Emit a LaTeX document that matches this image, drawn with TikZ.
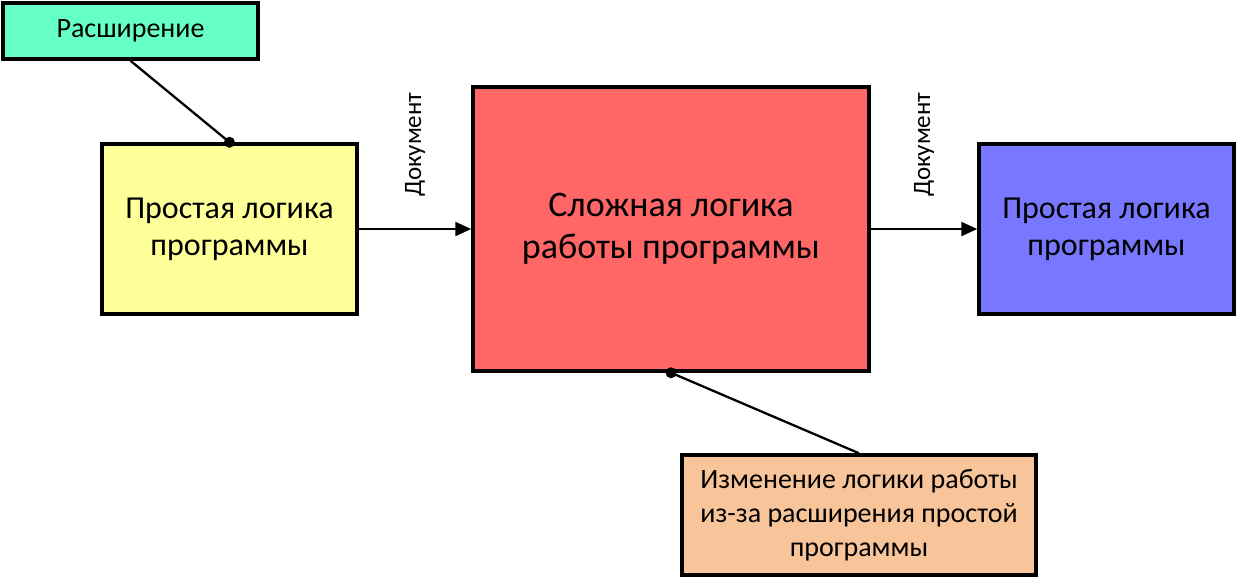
\documentclass[tikz,border=0pt]{standalone}
\usepackage{fontspec}
\setmainfont{Carlito}
\usetikzlibrary{positioning}
\usetikzlibrary{arrows.meta,calc}
\definecolor{extcol}{HTML}{66FFC6}
\definecolor{simplecol}{HTML}{FFFF99}
\definecolor{complexcol}{HTML}{FF6666}
\definecolor{targetcol}{HTML}{7777FF}
\definecolor{changecol}{HTML}{F8C49A}
\tikzstyle{block}=[draw, line width=3.5pt, align=center, inner sep=0pt]
\tikzstyle{link}=[line width=2.3pt]
\tikzstyle{flow}=[line width=2.3pt, -{Triangle[length=16pt, width=14pt]}]
\tikzstyle{doclabel}=[rotate=90, anchor=west, inner sep=0pt, font=\fontsize{25}{28}\selectfont]
\tikzstyle{dot}=[circle, fill=black, inner sep=0pt, minimum size=11pt]

\begin{document}
\begin{tikzpicture}[x=1pt, y=-1pt]
            \useasboundingbox (0,0) rectangle (1237,579);
            \node[block, fill=extcol, minimum width=255pt, minimum height=56pt, font=\fontsize{28}{32}\selectfont] (ext) at (130.5,31) {Расширение};
            \node[block, fill=simplecol, minimum width=255pt, minimum height=170pt, font=\fontsize{32}{37}\selectfont] (simple) at (229.5,229) {Простая логика\\программы};
            \node[block, fill=complexcol, minimum width=396pt, minimum height=284pt, font=\fontsize{36}{42}\selectfont] (complex) at (671,229) {Сложная логика\\работы программы};
            \node[block, fill=targetcol, minimum width=255pt, minimum height=170pt, font=\fontsize{32}{37}\selectfont] (target) at (1106.5,229) {Простая логика\\программы};
            \node[block, fill=changecol, minimum width=354pt, minimum height=120pt, font=\fontsize{28}{34}\selectfont] (change) at (859,515) {Изменение логики работы\\из-за расширения простой\\программы};

            \node[dot] (d1) at (simple.north) {};
            \node[dot] (d2) at (complex.south) {};
            \node[doclabel] (doc1) at ([yshift=32pt]$(simple.east)!0.5!(complex.west)$) {Документ};
            \node[doclabel] (doc2) at ([yshift=32pt]$(complex.east)!0.5!(target.west)$) {Документ};

            \draw[link] (ext.south) -- (d1.center);
            \draw[link] (d2.center) -- (change.north);
            \draw[flow] (simple.east) -- (complex.west);
            \draw[flow] (complex.east) -- (target.west);
        \end{tikzpicture}
\end{document}
